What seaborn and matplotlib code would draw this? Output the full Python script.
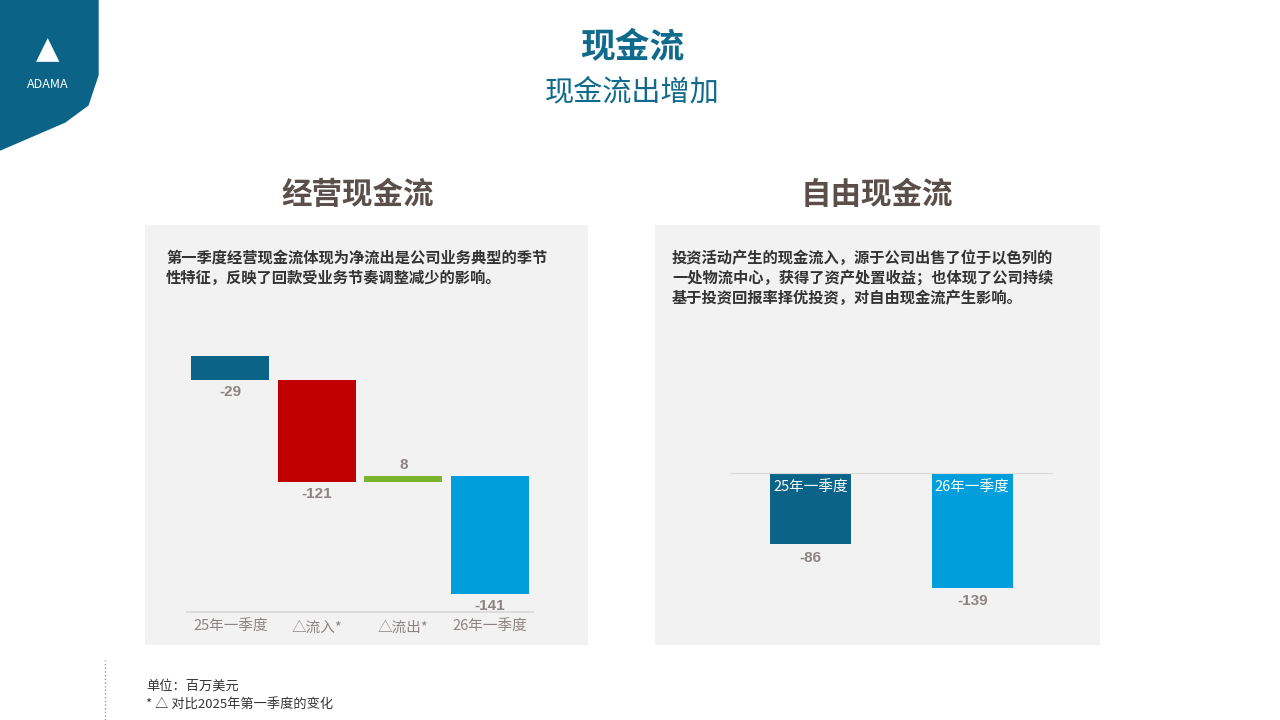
import matplotlib
matplotlib.use("Agg")
import matplotlib.pyplot as plt
import seaborn as sns
import pandas as pd
from matplotlib.patches import Polygon

sns.set_theme(style="white")
plt.rcParams['font.family'] = ['Noto Sans CJK SC', 'DejaVu Sans']

# data
wf_labels = ["25年一季度", "△流入*", "△流出*", "26年一季度"]
wf_values = [-29, -121, 8, -141]
wf_colors = ["#0b6488", "#c00000", "#7ab32e", "#009fdb"]
fcf_labels = ["25年一季度", "26年一季度"]
fcf_values = [-86, -139]
fcf_colors = ["#0b6488", "#009fdb"]

TEAL = "#0f6a8c"
BROWN = "#5a4f4b"
GREY = "#8c8482"
PANEL = "#f2f2f2"

fig = plt.figure(figsize=(12.8, 7.2), dpi=100)
W, H = 1280, 720

def box(x0, y0, x1, y1):
    return [x0 / W, 1 - y1 / H, (x1 - x0) / W, (y1 - y0) / H]

# logo
logo = Polygon([(0, 1), (98 / W, 1), (98 / W, 1 - 75 / H), (88 / W, 1 - 105 / H),
                (65 / W, 1 - 122 / H), (0, 1 - 150 / H)], closed=True,
               transform=fig.transFigure, color="#0b6488", zorder=0)
fig.patches.append(logo)
fig.text(48 / W, 1 - 50 / H, "▲", color="white", ha="center", va="center", fontsize=22,
         family=['DejaVu Sans'])
fig.text(48 / W, 1 - 84 / H, "ADAMA", color="white", ha="center", va="center", fontsize=9)

# titles
fig.text(632 / W, 1 - 48 / H, "现金流", color=TEAL, ha="center", va="center",
         fontsize=25, fontweight="bold")
fig.text(632 / W, 1 - 92 / H, "现金流出增加", color=TEAL, ha="center", va="center", fontsize=21)
fig.text(358 / W, 1 - 195 / H, "经营现金流", color=BROWN, ha="center", va="center",
         fontsize=22, fontweight="bold")
fig.text(877 / W, 1 - 195 / H, "自由现金流", color=BROWN, ha="center", va="center",
         fontsize=22, fontweight="bold")

# panels
for x0, x1 in [(145, 588), (655, 1100)]:
    bg = fig.add_axes(box(x0, 225, x1, 645))
    bg.set_facecolor(PANEL)
    bg.set_xticks([]); bg.set_yticks([])
    for s in bg.spines.values():
        s.set_visible(False)
    bg.set_zorder(0)

fig.text(166 / W, 1 - 250 / H, "第一季度经营现金流体现为净流出是公司业务典型的季节\n性特征，反映了回款受业务节奏调整减少的影响。",
         color="#333333", fontsize=11, fontweight="bold", va="top", linespacing=1.3)
fig.text(672 / W, 1 - 250 / H, "投资活动产生的现金流入，源于公司出售了位于以色列的\n一处物流中心，获得了资产处置收益；也体现了公司持续\n基于投资回报率择优投资，对自由现金流产生影响。",
         color="#333333", fontsize=11, fontweight="bold", va="top", linespacing=1.3)

# waterfall: each bar starts where the previous one ended
ax1 = fig.add_axes(box(187, 340, 533, 612))
ax1.set_zorder(1)
ax1.patch.set_alpha(0)
bottoms, cum = [], 0
for v in wf_values[:-1]:
    bottoms.append(cum)
    cum += v
bottoms.append(cum)
xs = range(len(wf_values))
ax1.bar(xs, wf_values, bottom=bottoms, color=wf_colors, width=0.9, linewidth=0)
for x, b, v in zip(xs, bottoms, wf_values):
    if v < 0:
        ax1.text(x, b + v - 5, f"{v}", ha="center", va="top", color=GREY,
                 fontsize=11, fontweight="bold", family=['Liberation Sans'])
    else:
        ax1.text(x, b + v + 4, f"{v}", ha="center", va="bottom", color=GREY,
                 fontsize=11, fontweight="bold", family=['Liberation Sans'])
ax1.set_xlim(-0.5, 3.5)
ax1.set_ylim(-304, 19)
ax1.set_xticks(list(xs))
ax1.set_xticklabels(wf_labels, color=GREY, fontsize=10.5)
ax1.tick_params(axis="x", length=0, pad=6)
ax1.set_yticks([])
for s in ["top", "left", "right"]:
    ax1.spines[s].set_visible(False)
ax1.spines["bottom"].set_color("#d9d9d9")

# free cash flow
ax2 = fig.add_axes(box(730, 400, 1053, 640))
ax2.set_zorder(1)
ax2.patch.set_alpha(0)
df = pd.DataFrame({"period": fcf_labels, "value": fcf_values})
sns.barplot(data=df, x="period", y="value", hue="period", palette=fcf_colors,
            legend=False, width=0.5, saturation=1, linewidth=0, ax=ax2)
ax2.axhline(0, color="#d9d9d9", lw=0.8)
for i, (lab, v) in enumerate(zip(fcf_labels, fcf_values)):
    ax2.text(i, -10, lab, ha="center", va="top", color="white", fontsize=10.5)
    ax2.text(i, v - 8, f"{v}", ha="center", va="top", color=GREY,
             fontsize=11, fontweight="bold", family=['Liberation Sans'])
ax2.set_ylim(-202, 88)
ax2.set_xlim(-0.5, 1.5)
ax2.axis("off")

# footnote
fig.add_artist(plt.Line2D([105 / W, 105 / W], [0, 1 - 660 / H], transform=fig.transFigure,
                          color="#999999", lw=1, ls=":"))
fig.text(146 / W, 1 - 686 / H, "单位：百万美元", color="#333333", fontsize=9.5, va="center")
fig.text(146 / W, 1 - 705 / H, "* △ 对比2025年第一季度的变化", color="#333333", fontsize=9.5, va="center")

fig.savefig("out.png", dpi=100, facecolor="white")
